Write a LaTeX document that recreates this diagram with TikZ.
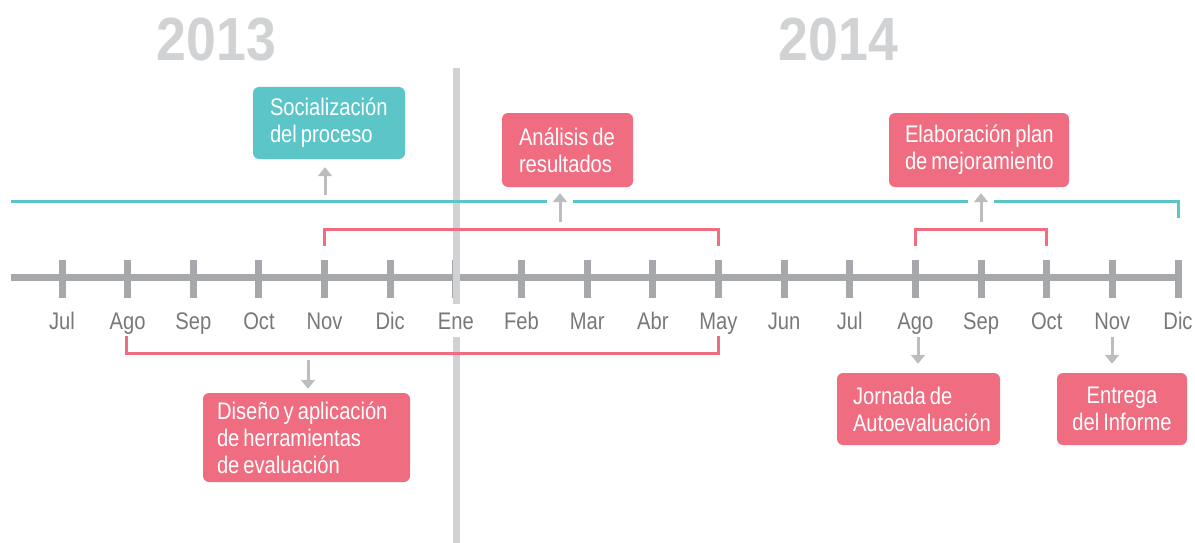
\documentclass[tikz,border=0pt]{standalone}
\usepackage{fontspec}
\setmainfont{Liberation Sans}[FakeStretch=0.84]
\newfontfamily\yearfont{Liberation Sans}[FakeStretch=0.88]
\usetikzlibrary{arrows.meta,calc}
\definecolor{cyanc}{HTML}{5BC5C8}
\definecolor{redc}{HTML}{F06C80}
\definecolor{axisc}{HTML}{A7A8AB}
\definecolor{barc}{HTML}{D1D2D4}
\definecolor{arrc}{HTML}{BCBDBF}
\definecolor{monthc}{HTML}{77787B}
\newcommand\myboxfont{\fontsize{24}{27}\selectfont}
\tikzset{
  boxbase/.style={rounded corners=6pt, text=white, inner ysep=0pt, minimum height=72pt,
    font=\myboxfont, execute at begin node={\spaceskip=4pt\relax}},
  redbox/.style={boxbase, fill=redc},
  cyanbox/.style={boxbase, fill=cyanc},
  arr/.style={draw=arrc, line width=3pt, -{Triangle[width=14pt,length=9pt]}},
  bracket/.style={draw=redc, line width=3pt},
  month/.style={text=monthc, anchor=base, inner sep=0pt, font=\fontsize{24}{27}\selectfont},
  year/.style={text=barc, inner sep=0pt, font=\yearfont\bfseries\fontsize{61}{61}\selectfont},
}
\begin{document}
\begin{tikzpicture}[x=1pt,y=-1pt]
\path[use as bounding box] (0,0) rectangle (1195,543);
% month coordinates on the axis
\foreach \i in {0,...,17} {
  \coordinate (m\i) at ({62+65.647*\i},277);
}
% axis
\draw[axisc, line width=7pt] (11,277) -- (m17);
\foreach \i in {0,...,17} {
  \draw[axisc, line width=7pt] ($(m\i)+(0,-17)$) -- ($(m\i)+(0,21)$);
}
% years
\node[year] (y13) at (216.5,40) {2013};
\node[year] (y14) at (838.5,40) {2014};
% vertical year divider
\draw[barc, line width=7pt] (456.5,68) -- (456.5,543);
% month labels
\foreach \i/\t in {0/Jul,1/Ago,2/Sep,3/Oct,4/Nov,5/Dic,7/Feb,8/Mar,9/Abr,10/May,11/Jun,12/Jul,13/Ago,14/Sep,15/Oct,16/Nov,17/Dic} {
  \node[month] (lab\i) at ($(m\i)+(0,52)$) {\t};
}
\node[month, fill=white, inner ysep=8pt] (lab6) at ($(m6)+(0,52)$) {Ene};
% cyan line
\coordinate (cA) at (11,201);
\coordinate (cB) at (547,201);
\coordinate (cC) at (573,201);
\coordinate (cD) at (968,201);
\coordinate (cE) at (994,201);
\coordinate (cF) at (1178,201);
\coordinate (cG) at (1178,218);
\draw[cyanc, line width=3pt] (cA) -- (cB);
\draw[cyanc, line width=3pt] (cC) -- (cD);
\draw[cyanc, line width=3pt] (cE) -- (cF) -- (cG);
% brackets
\draw[bracket] ($(m4)+(0,-31)$) -- ($(m4)+(0,-48)$) -- ($(m10)+(0,-48)$) -- ($(m10)+(0,-31)$);
\draw[bracket] ($(m13)+(0,-31)$) -- ($(m13)+(0,-48)$) -- ($(m15)+(0,-48)$) -- ($(m15)+(0,-31)$);
\draw[bracket] (126,336) -- (126,353) -- ($(m10)+(0,76)$) -- ($(m10)+(0,59)$);
% boxes
\node[cyanbox, minimum width=152pt, text width=118pt, inner xsep=17pt, align=left] (soc) at (329,123)
  {\mbox{Socialización}\\\mbox{del proceso}};
\node[redbox, minimum height=74pt, text width=97pt, inner xsep=17pt, align=left] (ana) at (567.5,150)
  {\mbox{Análisis de}\\\mbox{resultados}};
\node[redbox, minimum height=74pt, text width=148pt, inner xsep=16pt, align=left] (ela) at (979,150)
  {\mbox{Elaboración plan}\\\mbox{de mejoramiento}};
\node[redbox, minimum height=89pt, text width=179pt, inner xsep=14pt, align=left] (dis) at (306.5,437.5)
  {\mbox{Diseño y aplicación}\\\mbox{de herramientas}\\\mbox{de evaluación}};
\node[redbox, text width=131pt, inner xsep=16pt, align=left] (jor) at (918.5,409)
  {\mbox{Jornada de}\\\mbox{Autoevaluación}};
\node[redbox, text width=110pt, inner xsep=10pt, align=center] (ent) at (1122,409)
  {\mbox{Entrega}\\\mbox{del Informe}};
% arrows
\coordinate (aSoc) at (325,195);
\coordinate (aAna) at (560,222);
\coordinate (aEla) at (981,222);
\coordinate (aDis) at (308,360);
\coordinate (aJor) at (918,337);
\coordinate (aEnt) at (1112,337);
\draw[arr, shorten >=8pt] (aSoc) -- (aSoc |- soc.south);
\draw[arr, shorten >=6pt] (aAna) -- (aAna |- ana.south);
\draw[arr, shorten >=6pt] (aEla) -- (aEla |- ela.south);
\draw[arr, shorten >=4pt] (aDis) -- (aDis |- dis.north);
\draw[arr, shorten >=9pt] (aJor) -- (aJor |- jor.north);
\draw[arr, shorten >=9pt] (aEnt) -- (aEnt |- ent.north);
\end{tikzpicture}
\end{document}
